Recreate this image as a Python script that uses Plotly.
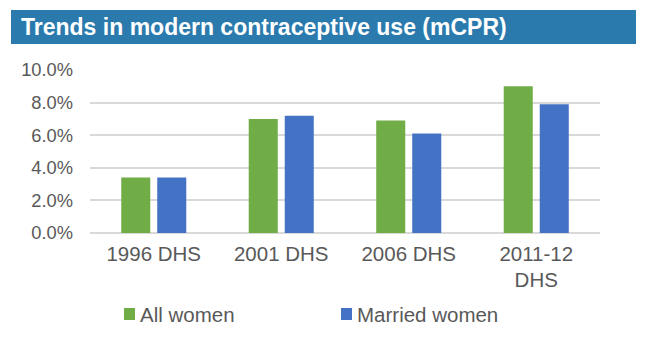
import plotly.graph_objects as go

# ---- data ----
categories = ["1996 DHS", "2001 DHS", "2006 DHS", "2011-12<br>DHS"]
series_names = ["All women", "Married women"]
all_women = [3.4, 7.0, 6.9, 9.0]
married_women = [3.4, 7.2, 6.1, 7.9]
y_ticks = [0, 2, 4, 6, 8, 10]
y_tick_labels = ["0.0%", "2.0%", "4.0%", "6.0%", "8.0%", "10.0%"]
title_text = "Trends in modern contraceptive use (mCPR)"

colors = ["#70AD47", "#4472C4"]
FONT = "Liberation Sans, Arial, sans-serif"
TXT = "#595959"

W, H = 652, 338
L, R, T, B = 90, 52, 70, 105
PW, PH = W - L - R, H - T - B


def px2x(px):
    return (px - L) / PW


def px2y(py):
    return (H - B - py) / PH


fig = go.Figure()
for name, vals, col in zip(series_names, [all_women, married_women], colors):
    fig.add_trace(go.Bar(x=categories, y=vals, name=name,
                         marker=dict(color=col, line=dict(width=0)),
                         showlegend=False))

shapes = [
    # title bar
    dict(type="rect", xref="paper", yref="paper",
         x0=px2x(11), x1=px2x(636), y0=px2y(44), y1=px2y(10),
         fillcolor="#2A7AAE", line=dict(width=0), layer="below"),
]
annotations = []
# manual legend
leg = [(124, 135, 140), (341, 352, 357)]
for (sx0, sx1, tx), name, col in zip(leg, series_names, colors):
    shapes.append(dict(type="rect", xref="paper", yref="paper",
                       x0=px2x(sx0), x1=px2x(sx1), y0=px2y(320), y1=px2y(308),
                       fillcolor=col, line=dict(width=0)))
    annotations.append(dict(text=name, xref="paper", yref="paper",
                            x=px2x(tx - 2), y=px2y(314), xanchor="left",
                            yanchor="middle", showarrow=False,
                            font=dict(family=FONT, size=20.5, color=TXT)))

fig.update_layout(
    width=W, height=H,
    margin=dict(l=L, r=R, t=T, b=B, pad=0),
    paper_bgcolor="white", plot_bgcolor="white",
    barmode="group", bargap=0.435, bargroupgap=0.194,
    title=dict(text=title_text, xref="container", yref="container",
               x=21 / W, xanchor="left", y=1 - 27 / H, yanchor="middle",
               font=dict(family=FONT, size=23, color="white", weight="bold")),
    shapes=shapes, annotations=annotations,
    showlegend=False,
)
fig.update_xaxes(showgrid=False, showline=False, ticks="",
                 tickfont=dict(family=FONT, size=20.5, color=TXT),
                 ticklabelstandoff=6)
fig.update_yaxes(range=[0, 10], tickvals=y_ticks, ticktext=y_tick_labels,
                 showgrid=True, gridcolor="#D9D9D9",
                 gridwidth=2, zeroline=True, zerolinecolor="#D9D9D9",
                 zerolinewidth=2, showline=False, ticks="",
                 tickfont=dict(family=FONT, size=18.3, color=TXT),
                 ticklabelstandoff=16)

fig.write_html("out.html")
